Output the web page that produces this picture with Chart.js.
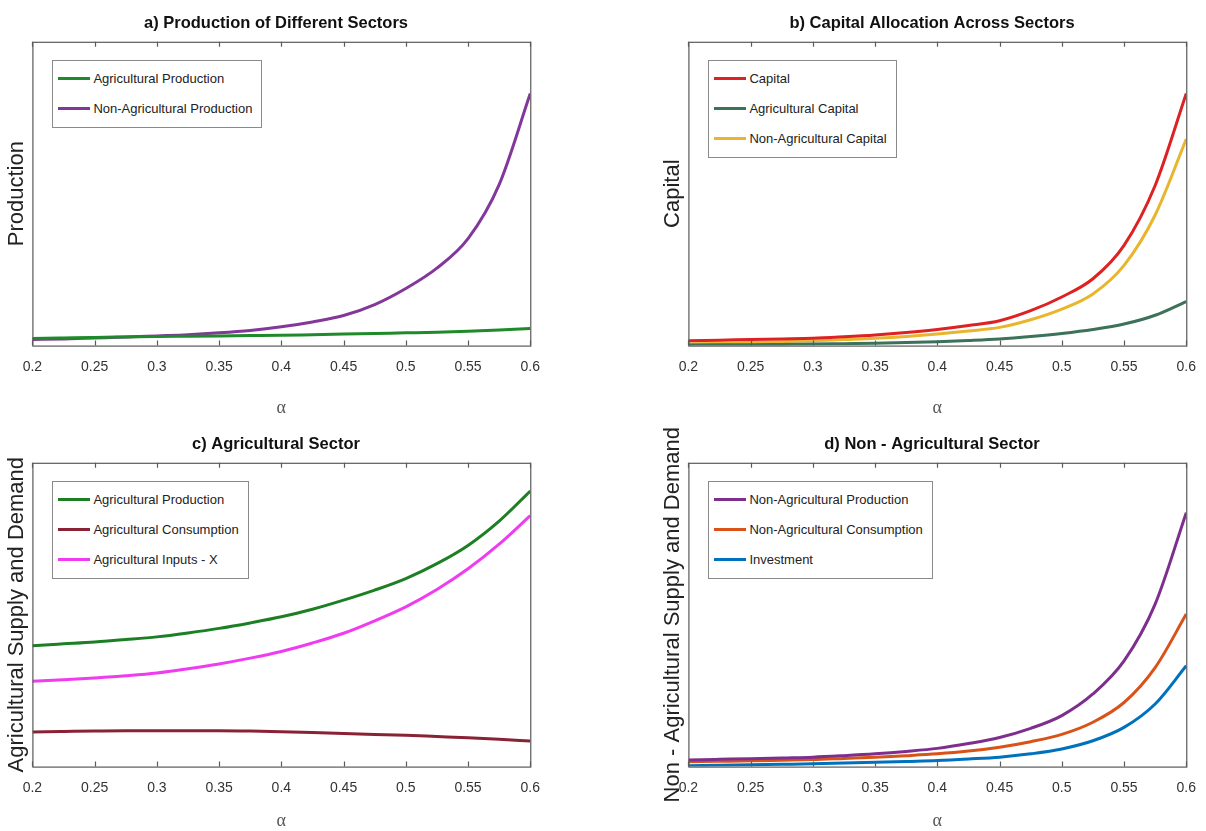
<!DOCTYPE html>
<html>
<head>
<meta charset="utf-8">
<script src="https://cdn.jsdelivr.net/npm/chart.js@4.4.0/dist/chart.umd.min.js"></script>
<style>
    body { margin: 0; background: #fff; width: 1206px; height: 831px; overflow: hidden; position: relative; }
    .panel { position: absolute; width: 553px; }
    .panel canvas { display: block; }
    .legend {
        position: absolute; background: #fff; border: 1px solid #8a8a8a;
        padding: 3px 9px 3px 5px; color: #222;
        font: 13px 'Liberation Sans', Arial, sans-serif;
    }
    .legend .row { display: flex; align-items: center; height: 30px; white-space: nowrap; }
    .legend .swatch { width: 32px; height: 3px; margin-right: 3px; }
</style>
</head>
<body>
<div class="panel" style="left:0;top:0"><canvas id="chartA" width="553" height="423"></canvas></div>
<div class="panel" style="left:656px;top:0"><canvas id="chartB" width="553" height="423"></canvas></div>
<div class="panel" style="left:0;top:421px"><canvas id="chartC" width="553" height="415"></canvas></div>
<div class="panel" style="left:656px;top:421px"><canvas id="chartD" width="553" height="415"></canvas></div>

<script>
// alpha grid shared by all four panels
const alpha = [0.2, 0.225, 0.25, 0.275, 0.3, 0.325, 0.35, 0.375, 0.4,
               0.425, 0.45, 0.475, 0.5, 0.525, 0.55, 0.575, 0.6];
const xTickValues = [0.2, 0.25, 0.3, 0.35, 0.4, 0.45, 0.5, 0.55, 0.6];
const xTickLabels = ['0.2', '0.25', '0.3', '0.35', '0.4', '0.45', '0.5', '0.55', '0.6'];

// a) production (y axis has no units, values read as % of axis height)
const agProductionA = [2.3, 2.5, 2.7, 2.85, 3.0, 3.1, 3.2, 3.3, 3.4, 3.6, 3.8, 4.0, 4.2, 4.4, 4.7, 5.1, 5.6];
const nonAgProductionA = [2.0, 2.2, 2.5, 2.8, 3.2, 3.6, 4.2, 5.0, 6.2, 7.8, 9.9, 13.5, 18.8, 25.5, 35.2, 53.0, 83.0];

// b) capital
const capital = [1.6, 1.8, 2.0, 2.2, 2.4, 2.9, 3.5, 4.3, 5.3, 6.6, 8.2, 11.5, 16.0, 22.0, 33.0, 52.7, 83.0];
const agCapital = [0.2, 0.25, 0.3, 0.4, 0.5, 0.65, 0.8, 1.0, 1.3, 1.7, 2.2, 3.0, 4.0, 5.3, 7.1, 10.0, 14.5];
const nonAgCapital = [0.5, 0.75, 1.0, 1.3, 1.6, 2.0, 2.4, 3.0, 3.8, 4.8, 6.0, 8.5, 12.0, 17.0, 26.4, 43.0, 68.0];

// c) agricultural sector
const agProductionC = [39.8, 40.4, 41.0, 41.8, 42.7, 44.0, 45.5, 47.3, 49.3, 51.8, 54.8, 58.1, 61.9, 66.8, 72.8, 80.8, 90.7];
const agConsumption = [11.4, 11.55, 11.7, 11.8, 11.8, 11.8, 11.8, 11.7, 11.5, 11.2, 10.9, 10.6, 10.3, 9.9, 9.5, 9.0, 8.4];
const agInputs = [28.1, 28.6, 29.2, 29.9, 30.8, 32.2, 33.8, 35.7, 37.9, 40.7, 43.9, 48.0, 52.6, 58.3, 65.1, 73.2, 82.6];

// d) non-agricultural sector
const nonAgProductionD = [2.2, 2.4, 2.6, 2.85, 3.1, 3.6, 4.2, 5.0, 6.0, 7.6, 9.6, 12.6, 16.8, 23.9, 34.8, 53.5, 83.6];
const nonAgConsumption = [1.6, 1.75, 1.9, 2.1, 2.3, 2.7, 3.1, 3.6, 4.2, 5.1, 6.4, 8.2, 10.6, 14.6, 21.1, 32.6, 50.2];
const investment = [0.3, 0.45, 0.6, 0.75, 0.9, 1.15, 1.4, 1.7, 2.0, 2.5, 3.1, 4.2, 5.8, 8.5, 12.9, 20.6, 33.2];

const SANS = "'Liberation Sans', Arial, sans-serif";

// MATLAB style box with inward x ticks on top and bottom
const framePlugin = {
    id: 'frame',
    afterDatasetsDraw(chart) {
        const { ctx, chartArea: a } = chart;
        const x = chart.scales.x;
        ctx.save();
        ctx.strokeStyle = '#5a5a5a';
        ctx.lineWidth = 1.2;
        ctx.strokeRect(a.left + 0.5, a.top + 0.5, a.width, a.height);
        ctx.beginPath();
        x.ticks.forEach(t => {
            const px = Math.round(x.getPixelForValue(t.value)) + 0.5;
            ctx.moveTo(px, a.bottom);
            ctx.lineTo(px, a.bottom - 5);
            ctx.moveTo(px, a.top);
            ctx.lineTo(px, a.top + 5);
        });
        ctx.stroke();
        ctx.restore();
    }
};

function series(label, values, color) {
    return {
        label: label,
        data: alpha.map((a, i) => ({ x: a, y: values[i] })),
        borderColor: color,
        backgroundColor: color,
        borderWidth: 3,
        pointRadius: 0,
        cubicInterpolationMode: 'monotone',
        fill: false
    };
}

function buildLegend(chart, canvasId) {
    const panel = document.getElementById(canvasId).parentNode;
    const box = document.createElement('div');
    box.className = 'legend';
    box.style.left = (chart.chartArea.left + 20) + 'px';
    box.style.top = (chart.chartArea.top + 18) + 'px';
    chart.data.datasets.forEach(ds => {
        const row = document.createElement('div');
        row.className = 'row';
        row.innerHTML = `<span class="swatch" style="background:${ds.borderColor}"></span><span>${ds.label}</span>`;
        box.appendChild(row);
    });
    panel.appendChild(box);
}

function makeChart(canvasId, title, yTitle, datasets, opts) {
    const ctx = document.getElementById(canvasId).getContext('2d');
    const chart = new Chart(ctx, {
        type: 'line',
        data: { datasets: datasets },
        options: {
            responsive: false,
            animation: false,
            layout: { padding: { left: 3, right: 4, top: 0, bottom: 0 } },
            plugins: {
                legend: { display: false },
                tooltip: { enabled: false },
                title: {
                    display: true,
                    text: title,
                    color: '#111',
                    font: { family: SANS, size: 16.5, weight: 'bold' },
                    padding: { top: 14, bottom: 8 }
                }
            },
            scales: {
                x: {
                    type: 'linear',
                    min: 0.2,
                    max: 0.6,
                    grid: { display: false, drawTicks: false },
                    border: { display: false },
                    afterBuildTicks: (scale) => {
                        scale.ticks = xTickValues.map(v => ({ value: v }));
                    },
                    ticks: {
                        padding: 13,
                        color: '#333',
                        font: { family: SANS, size: 14 },
                        maxRotation: 0,
                        callback: (v, i) => xTickLabels[i]
                    },
                    title: {
                        display: true,
                        text: 'α',
                        color: '#555',
                        font: { family: "'Liberation Serif', serif", size: 18 },
                        padding: { top: opts.alphaGap, bottom: 4 }
                    }
                },
                y: {
                    min: 0,
                    max: 100,
                    grid: { display: false, drawTicks: false },
                    border: { display: false },
                    ticks: { display: false },
                    title: {
                        display: true,
                        text: yTitle,
                        color: '#222',
                        font: { family: SANS, size: 22 },
                        padding: { top: 1, bottom: 2 }
                    }
                }
            }
        },
        plugins: [framePlugin]
    });
    buildLegend(chart, canvasId);
    return chart;
}

makeChart('chartA', 'a) Production of Different Sectors', 'Production', [
    series('Agricultural Production', agProductionA, '#1f8a2a'),
    series('Non-Agricultural Production', nonAgProductionA, '#83379a')
], { alphaGap: 9 });

makeChart('chartB', 'b) Capital Allocation Across Sectors', 'Capital', [
    series('Capital', capital, '#dc2222'),
    series('Agricultural Capital', agCapital, '#3c715a'),
    series('Non-Agricultural Capital', nonAgCapital, '#e9b52c')
], { alphaGap: 9 });

makeChart('chartC', 'c) Agricultural Sector', 'Agricultural Supply and Demand', [
    series('Agricultural Production', agProductionC, '#1d7f24'),
    series('Agricultural Consumption', agConsumption, '#8a2236'),
    series('Agricultural Inputs - X', agInputs, '#f03cf0')
], { alphaGap: 1 });

makeChart('chartD', 'd) Non - Agricultural Sector', 'Non - Agricultural Supply and Demand', [
    series('Non-Agricultural Production', nonAgProductionD, '#7e2f8e'),
    series('Non-Agricultural Consumption', nonAgConsumption, '#d95319'),
    series('Investment', investment, '#0072bd')
], { alphaGap: 1 });
</script>
</body>
</html>
